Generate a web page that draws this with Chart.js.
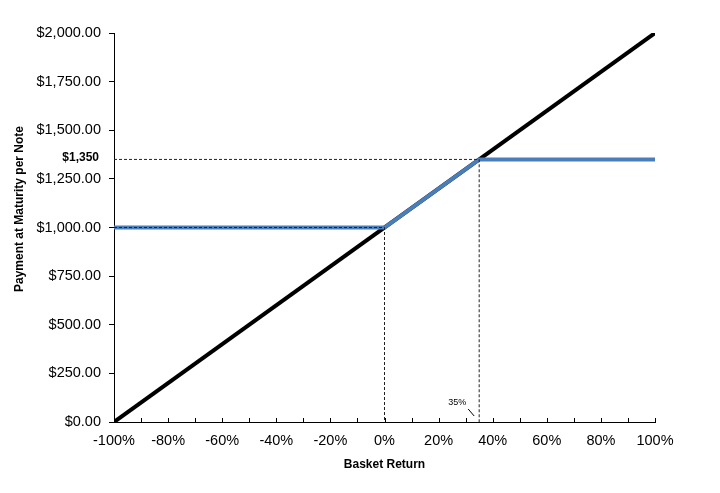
<!DOCTYPE html>
<html>
<head>
<meta charset="utf-8">
<script src="https://cdn.jsdelivr.net/npm/chart.js@4/dist/chart.umd.min.js"></script>
<style>
  html, body { margin: 0; padding: 0; background: #fff; }
  #wrap { width: 720px; height: 493px; }
</style>
</head>
<body>
<div id="wrap"><canvas id="payoff"></canvas></div>
<script>
// basket return (%) and payment at maturity per $1,000 note
const basketReturn = [-100, 0, 35, 100];
const notePayment = [1000, 1000, 1350, 1350];
const underlyingReturn = [-100, 100];
const underlyingValue = [0, 2000];
const capReturn = 35;
const capPayment = 1350;
const xTicks = [-100, -90, -80, -70, -60, -50, -40, -30, -20, -10, 0, 10, 20, 30, 40, 50, 60, 70, 80, 90, 100];

const font = "'Liberation Sans', Arial, sans-serif";

const pts = (xs, ys) => xs.map((x, i) => ({ x: x, y: ys[i] }));

// small marks Excel had on the chart: inner x ticks, cap label, 35% callout, y title
const extras = {
  id: 'extras',
  afterDraw(chart) {
    const { ctx, scales: { x, y } } = chart;
    const base = y.getPixelForValue(0);
    ctx.save();
    ctx.strokeStyle = '#000';
    ctx.lineWidth = 1;
    ctx.beginPath();
    xTicks.forEach(v => {
      const px = Math.round(x.getPixelForValue(v)) + 0.5;
      ctx.moveTo(px, base);
      ctx.lineTo(px, base - 4);
    });
    ctx.stroke();

    ctx.fillStyle = '#000';
    ctx.font = 'bold 12px ' + font;
    ctx.textAlign = 'right';
    ctx.textBaseline = 'middle';
    ctx.fillText('$1,350', 99, y.getPixelForValue(capPayment) - 2);

    const cx = x.getPixelForValue(capReturn);
    ctx.font = '9px ' + font;
    ctx.textAlign = 'center';
    ctx.fillText('35%', cx - 22, 403);
    ctx.beginPath();
    ctx.moveTo(cx - 11, 409);
    ctx.lineTo(cx - 5, 416);
    ctx.stroke();

    ctx.translate(20, 209);
    ctx.rotate(-Math.PI / 2);
    ctx.font = 'bold 12px ' + font;
    ctx.fillText('Payment at Maturity per Note', 0, 0);
    ctx.restore();
  }
};

const dashed = { borderColor: '#222', borderWidth: 1, borderDash: [3, 2], pointRadius: 0, showLine: true, fill: false, order: 0 };

new Chart(document.getElementById('payoff'), {
  type: 'scatter',
  data: {
    datasets: [
      Object.assign({ data: pts([-100, capReturn, capReturn], [capPayment, capPayment, 0]) }, dashed),
      Object.assign({ data: pts([-100, 0, 0], [1000, 1000, 0]) }, dashed),
      {
        label: 'Note',
        data: pts(basketReturn, notePayment),
        showLine: true,
        borderColor: '#4a7ebb',
        borderWidth: 4,
        pointRadius: 0,
        order: 1
      },
      {
        label: 'Basket',
        data: pts(underlyingReturn, underlyingValue),
        showLine: true,
        borderColor: '#000',
        borderWidth: 4,
        pointRadius: 0,
        order: 2
      }
    ]
  },
  options: {
    responsive: true,
    maintainAspectRatio: false,
    animation: false,
    layout: { padding: { left: 0, right: 65, top: 33, bottom: 0 } },
    plugins: { legend: { display: false }, tooltip: { enabled: false } },
    scales: {
      x: {
        type: 'linear',
        min: -100,
        max: 100,
        afterFit: s => { s.height = 71; },
        border: { color: '#000', width: 1 },
        grid: { display: false, drawTicks: false },
        ticks: {
          stepSize: 20,
          padding: 10,
          color: '#000',
          font: { family: font, size: 14.5 },
          callback: v => v + '%'
        },
        title: {
          display: true,
          text: 'Basket Return',
          color: '#000',
          font: { family: font, size: 12, weight: 'bold' },
          padding: { top: 0, bottom: 21 }
        }
      },
      y: {
        min: 0,
        max: 2000,
        afterFit: s => { s.width = 114; },
        border: { color: '#000', width: 1 },
        grid: { drawOnChartArea: false, drawTicks: true, tickLength: 5, color: '#000' },
        ticks: {
          stepSize: 250,
          padding: 8,
          color: '#000',
          font: { family: font, size: 14.5 },
          callback: v => '$' + v.toLocaleString('en-US', { minimumFractionDigits: 2, maximumFractionDigits: 2 })
        }
      }
    }
  },
  plugins: [extras]
});
</script>
</body>
</html>
